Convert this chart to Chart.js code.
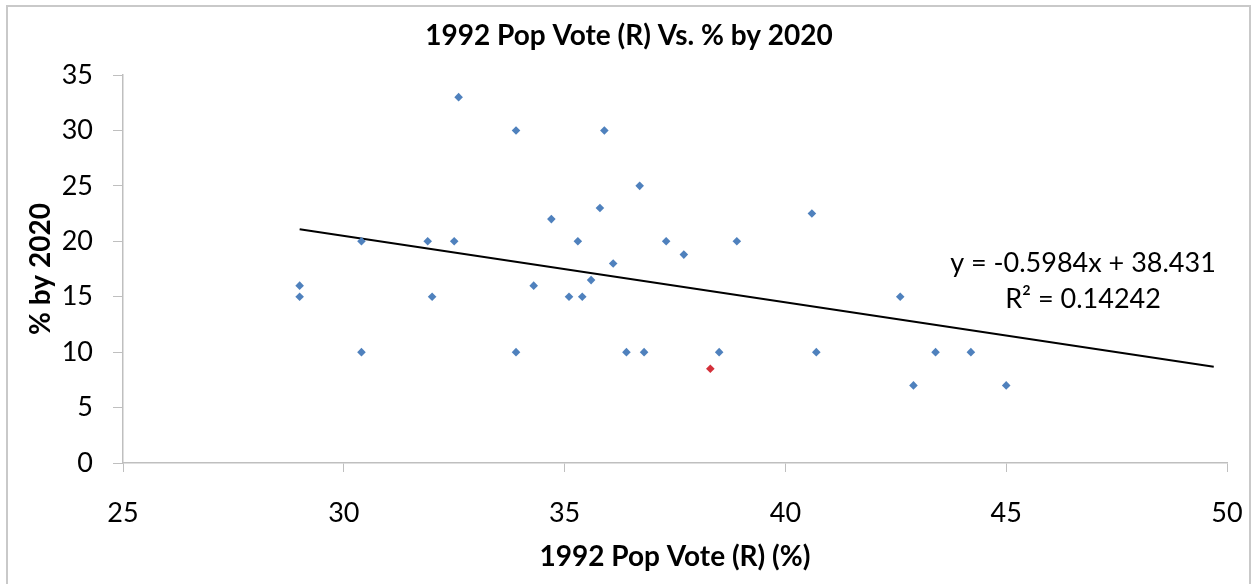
<!DOCTYPE html>
<html>
<head>
<meta charset="utf-8">
<script src="https://cdn.jsdelivr.net/npm/chart.js@4/dist/chart.umd.min.js"></script>
<style>
  html, body { margin: 0; padding: 0; background: #ffffff; }
  #wrap { position: relative; width: 1252px; height: 584px; }
</style>
</head>
<body>
<div id="wrap"><canvas id="c" width="1252" height="584"></canvas></div>
<script>
// 1992 Republican popular vote share (%) and share by 2020 (%)
const popVote1992 = [29, 29, 30.4, 30.4, 31.9, 32.0, 32.5, 32.6, 33.9, 33.9, 34.3, 34.7, 35.1, 35.3, 35.4, 35.6, 35.8, 35.9, 36.1, 36.4, 36.7, 36.8, 37.3, 37.7, 38.5, 38.9, 40.6, 40.7, 42.6, 42.9, 43.4, 44.2, 45.0];
const pctBy2020   = [16, 15, 20, 10, 20, 15, 20, 33, 30, 10, 16, 22, 15, 20, 15, 16.5, 23, 30, 18, 10, 25, 10, 20, 18.8, 10, 20, 22.5, 10, 15, 7, 10, 10, 7];

// highlighted point
const highlightX = [38.3];
const highlightY = [8.5];

// linear trend line
const trendSlope = -0.5984;
const trendIntercept = 38.431;
const trendRange = [29, 49.7];
const trendLabel = ['y = -0.5984x + 38.431', 'R² = 0.14242'];

const xTicks = [25, 30, 35, 40, 45, 50];
const yTicks = [0, 5, 10, 15, 20, 25, 30, 35];

const FONT = 'Lato, "Open Sans", sans-serif';
const AXIS_GREY = '#BFBFBF';

const mainPoints = popVote1992.map((x, i) => ({ x, y: pctBy2020[i] }));
const redPoints = highlightX.map((x, i) => ({ x, y: highlightY[i] }));
const trendPoints = trendRange.map(x => ({ x, y: trendSlope * x + trendIntercept }));

const framePlugin = {
  id: 'frame',
  beforeDraw(chart) {
    const ctx = chart.ctx;
    ctx.save();
    ctx.fillStyle = '#ffffff';
    ctx.fillRect(0, 0, chart.width, chart.height);
    ctx.strokeStyle = '#C9C9C9';
    ctx.lineWidth = 2;
    ctx.strokeRect(7, 6, 1243, 640);
    ctx.restore();
  }
};

const equationPlugin = {
  id: 'equation',
  afterDatasetsDraw(chart) {
    const ctx = chart.ctx;
    const a = chart.chartArea;
    const cx = a.right - 144;
    ctx.save();
    ctx.fillStyle = '#000000';
    ctx.font = '27px ' + FONT;
    ctx.textAlign = 'center';
    ctx.textBaseline = 'alphabetic';
    ctx.fillText(trendLabel[0], cx, a.top + 197);
    ctx.fillText(trendLabel[1], cx, a.top + 233);
    ctx.restore();
  }
};

new Chart(document.getElementById('c'), {
  type: 'scatter',
  data: {
    datasets: [
      {
        label: 'Trend',
        type: 'line',
        data: trendPoints,
        borderColor: '#000000',
        borderWidth: 2,
        pointRadius: 0,
        fill: false,
        order: 2
      },
      {
        label: 'States',
        data: mainPoints,
        pointStyle: 'rectRot',
        pointRadius: 4.3,
        pointBackgroundColor: '#4F81BD',
        pointBorderColor: '#4F81BD',
        pointBorderWidth: 0,
        order: 1
      },
      {
        label: 'Highlight',
        data: redPoints,
        pointStyle: 'rectRot',
        pointRadius: 4.3,
        pointBackgroundColor: '#D4303A',
        pointBorderColor: '#D4303A',
        pointBorderWidth: 0,
        order: 0
      }
    ]
  },
  options: {
    responsive: false,
    animation: false,
    devicePixelRatio: 1,
    layout: { padding: { left: 6, right: 0, top: 0, bottom: 0 } },
    plugins: {
      legend: { display: false },
      tooltip: { enabled: false },
      title: {
        display: true,
        text: '1992 Pop Vote (R) Vs. % by 2020',
        color: '#000000',
        font: { family: FONT, size: 28, weight: 'bold', lineHeight: 1.2 },
        padding: { top: 19, bottom: 22.4 }
      }
    },
    scales: {
      x: {
        type: 'linear',
        min: 25,
        max: 50,
        afterBuildTicks(scale) { scale.ticks = xTicks.map(v => ({ value: v })); },
        afterFit(scale) { scale.height = 121; scale.paddingLeft = 0; scale.paddingRight = 25; },
        ticks: { color: '#000000', font: { family: FONT, size: 27 }, padding: 25, maxRotation: 0 },
        grid: { display: true, drawOnChartArea: false, drawTicks: true, tickLength: 9, color: AXIS_GREY },
        border: { display: true, color: AXIS_GREY, width: 1.5 },
        title: {
          display: true,
          text: '1992 Pop Vote (R) (%)',
          color: '#000000',
          font: { family: FONT, size: 28, weight: 'bold', lineHeight: 1.2 },
          padding: { top: 0, bottom: 10 }
        }
      },
      y: {
        type: 'linear',
        min: 0,
        max: 35,
        afterBuildTicks(scale) { scale.ticks = yTicks.map(v => ({ value: v })); },
        afterFit(scale) { scale.width = 117; scale.paddingTop = 0; scale.paddingBottom = 0; },
        ticks: { color: '#000000', font: { family: FONT, size: 27 }, padding: 20 },
        grid: { display: true, drawOnChartArea: false, drawTicks: true, tickLength: 10, color: AXIS_GREY },
        border: { display: true, color: AXIS_GREY, width: 1.5 },
        title: {
          display: true,
          text: '% by 2020',
          color: '#000000',
          font: { family: FONT, size: 28, weight: 'bold', lineHeight: 1.2 },
          padding: { top: 18, bottom: 0 }
        }
      }
    }
  },
  plugins: [framePlugin, equationPlugin]
});
</script>
</body>
</html>
